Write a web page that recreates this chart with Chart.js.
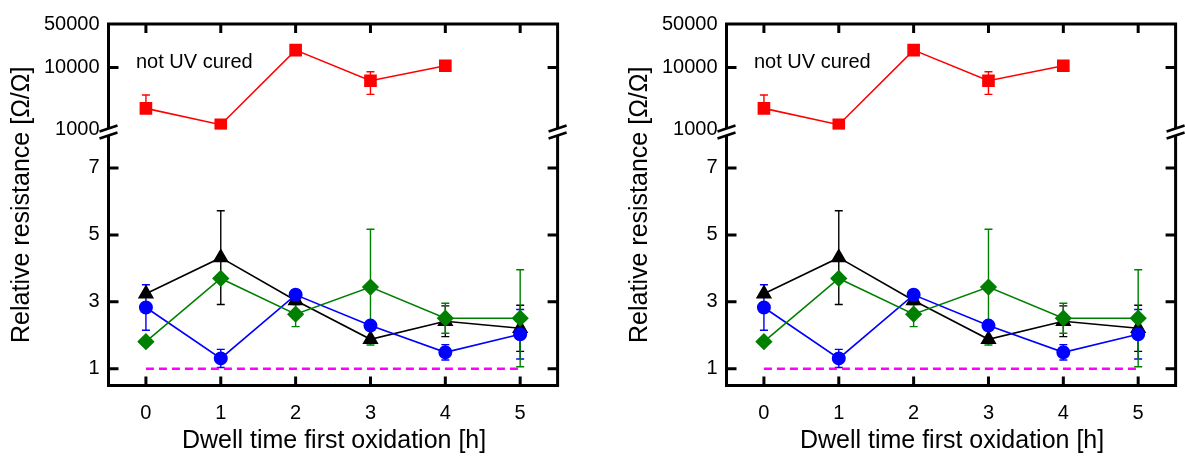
<!DOCTYPE html>
<html>
<head>
<meta charset="utf-8">
<script src="https://cdn.jsdelivr.net/npm/chart.js@4.4.1/dist/chart.umd.min.js"></script>
<style>
    html, body { margin: 0; padding: 0; background: #fff; }
    .panel { position: absolute; top: 0; width: 567px; height: 456px; }
    #panelA { left: 0; }
    #panelB { left: 618px; }
</style>
</head>
<body>
<div class="panel" id="panelA"><canvas id="chartA"></canvas></div>
<div class="panel" id="panelB"><canvas id="chartB"></canvas></div>
<script>
// dwell time of the first oxidation step [h]
const hours = [0, 1, 2, 3, 4, 5];

// tick values for the broken y axis
const logTicks = [1000, 10000, 50000];
const linTicks = [1, 3, 5, 7];

// not UV cured samples (upper, logarithmic part)
const redValues = [2190, 1195, 19000, 6100, 10650];
const redErrPlus = [1400, 0, 0, 2420, 0];
const redErrMinus = [0, 0, 0, 2420, 0];

// UV cured samples (lower, linear part)
const blackValues = [3.24, 4.32, 3.04, 1.88, 2.42, 2.21];
const blackErr = [0, 1.4, 0.12, 0, 0.46, 0.69];

const blueValues = [2.83, 1.31, 3.21, 2.29, 1.49, 2.03];
const blueErr = [0.68, 0.27, 0.15, 0, 0.23, 0.74];

const greenValues = [1.81, 3.70, 2.63, 3.44, 2.51, 2.51];
const greenErr = [0, 0, 0.37, 1.73, 0.45, 1.45];

// reference level R/R0 = 1
const refX = [0, 5];
const refY = [1, 1];

const FONT = "'Liberation Sans', Arial, sans-serif";

function points(values) {
    return values.map((v, i) => ({ x: hours[i], y: v }));
}

// vertical error bars with caps, drawn below the markers
const errorBars = {
    id: 'errorBars',
    beforeDatasetsDraw(chart) {
        const ctx = chart.ctx;
        const xs = chart.scales.x;
        chart.data.datasets.forEach(ds => {
            if (!ds.errPlus) return;
            const ys = chart.scales[ds.yAxisID];
            ctx.save();
            ctx.strokeStyle = ds.borderColor;
            ctx.lineWidth = 1.4;
            ds.data.forEach((p, i) => {
                const up = ds.errPlus[i];
                const down = ds.errMinus[i];
                if (!up && !down) return;
                const px = xs.getPixelForValue(p.x);
                const top = ys.getPixelForValue(p.y + up);
                const bot = ys.getPixelForValue(p.y - down);
                ctx.beginPath();
                ctx.moveTo(px, top);
                ctx.lineTo(px, bot);
                if (up) { ctx.moveTo(px - 4, top); ctx.lineTo(px + 4, top); }
                if (down) { ctx.moveTo(px - 4, bot); ctx.lineTo(px + 4, bot); }
                ctx.stroke();
            });
            ctx.restore();
        });
    }
};

// box frame, inward ticks, axis break and the texts
const frame = {
    id: 'frame',
    afterDraw(chart) {
        const { ctx, chartArea: a, scales } = chart;
        const yBreak = scales.yLog.bottom;
        ctx.save();
        ctx.strokeStyle = '#000';
        ctx.lineWidth = 3;
        ctx.strokeRect(a.left, a.top, a.right - a.left, a.bottom - a.top);

        ctx.beginPath();
        hours.forEach(h => {
            const px = scales.x.getPixelForValue(h);
            ctx.moveTo(px, a.bottom);
            ctx.lineTo(px, a.bottom - 9);
            ctx.moveTo(px, a.top);
            ctx.lineTo(px, a.top + 9);
        });
        const yTicks = logTicks.map(v => scales.yLog.getPixelForValue(v))
            .concat(linTicks.map(v => scales.yLin.getPixelForValue(v)))
            .filter(py => py > a.top + 3 && Math.abs(py - yBreak) > 3);
        yTicks.forEach(py => {
            ctx.moveTo(a.left, py);
            ctx.lineTo(a.left + 10, py);
            ctx.moveTo(a.right, py);
            ctx.lineTo(a.right - 10, py);
        });
        ctx.stroke();

        // break marks on both side axes
        [a.left, a.right].forEach(ax => {
            ctx.fillStyle = '#fff';
            ctx.beginPath();
            ctx.moveTo(ax - 9, yBreak + 2);
            ctx.lineTo(ax + 9, yBreak - 4);
            ctx.lineTo(ax + 9, yBreak + 3);
            ctx.lineTo(ax - 9, yBreak + 9);
            ctx.closePath();
            ctx.fill();
            ctx.lineWidth = 2.5;
            ctx.beginPath();
            ctx.moveTo(ax - 9, yBreak + 2);
            ctx.lineTo(ax + 9, yBreak - 4);
            ctx.moveTo(ax - 9, yBreak + 9);
            ctx.lineTo(ax + 9, yBreak + 3);
            ctx.stroke();
        });

        ctx.fillStyle = '#000';
        ctx.font = '20px ' + FONT;
        ctx.textAlign = 'left';
        ctx.textBaseline = 'alphabetic';
        ctx.fillText('not UV cured', 136, 68);

        ctx.font = '25px ' + FONT;
        ctx.textAlign = 'center';
        ctx.textBaseline = 'middle';
        ctx.fillText('Dwell time first oxidation [h]', (a.left + a.right) / 2 + 1, 441);

        ctx.translate(22, (a.top + a.bottom) / 2);
        ctx.rotate(-Math.PI / 2);
        ctx.fillText('Relative resistance [\u03A9/\u03A9]', 0, 0);
        ctx.restore();
    }
};

function buildChart(canvasId) {
    const ctx = document.getElementById(canvasId);
    return new Chart(ctx, {
        type: 'line',
        data: {
            datasets: [
                {
                    label: 'reference',
                    data: refX.map((x, i) => ({ x: x, y: refY[i] })),
                    yAxisID: 'yLin',
                    borderColor: '#ff00ff',
                    borderWidth: 2.5,
                    borderDash: [8, 5],
                    pointRadius: 0,
                    order: 6
                },
                {
                    label: 'not UV cured',
                    data: points(redValues),
                    yAxisID: 'yLog',
                    borderColor: '#ff0000',
                    backgroundColor: '#ff0000',
                    borderWidth: 1.6,
                    pointStyle: 'rect',
                    pointRadius: 7.8,
                    errPlus: redErrPlus,
                    errMinus: redErrMinus,
                    order: 5
                },
                {
                    label: 'black',
                    data: points(blackValues),
                    yAxisID: 'yLin',
                    borderColor: '#000000',
                    backgroundColor: '#000000',
                    borderWidth: 1.6,
                    pointStyle: 'triangle',
                    pointRadius: 7.8,
                    errPlus: blackErr,
                    errMinus: blackErr,
                    order: 4
                },
                {
                    label: 'blue',
                    data: points(blueValues),
                    yAxisID: 'yLin',
                    borderColor: '#0000ff',
                    backgroundColor: '#0000ff',
                    borderWidth: 1.6,
                    pointStyle: 'circle',
                    pointRadius: 6.2,
                    errPlus: blueErr,
                    errMinus: blueErr,
                    order: 3
                },
                {
                    label: 'green',
                    data: points(greenValues),
                    yAxisID: 'yLin',
                    borderColor: '#008000',
                    backgroundColor: '#008000',
                    borderWidth: 1.6,
                    pointStyle: 'rectRot',
                    pointRadius: 7.5,
                    errPlus: greenErr,
                    errMinus: greenErr,
                    order: 2
                }
            ]
        },
        options: {
            responsive: true,
            maintainAspectRatio: false,
            animation: false,
            events: [],
            layout: { padding: { top: 24, right: 8.5, left: 0, bottom: 0 } },
            plugins: {
                legend: { display: false },
                tooltip: { enabled: false }
            },
            elements: {
                line: { tension: 0, fill: false },
                point: { borderWidth: 0 }
            },
            scales: {
                x: {
                    type: 'linear',
                    min: -0.5,
                    max: 5.5,
                    grid: { display: false, drawTicks: false },
                    border: { display: false },
                    afterBuildTicks: scale => { scale.ticks = hours.map(v => ({ value: v })); },
                    afterFit: scale => { scale.height = 70.5; },
                    ticks: {
                        color: '#000',
                        font: { family: FONT, size: 20 },
                        padding: 16,
                        maxRotation: 0,
                        autoSkip: false
                    }
                },
                // lower, linear part of the broken axis (listed first so it sits at the bottom)
                yLin: {
                    type: 'linear',
                    position: 'left',
                    stack: 'resistance',
                    stackWeight: 256,
                    min: 0.5,
                    max: 8.15,
                    grid: { display: false, drawTicks: false },
                    border: { display: false },
                    afterBuildTicks: scale => { scale.ticks = linTicks.map(v => ({ value: v })); },
                    afterFit: scale => { scale.width = 108.5; },
                    ticks: {
                        color: '#000',
                        font: { family: FONT, size: 20 },
                        padding: 9,
                        autoSkip: false
                    }
                },
                // upper, logarithmic part
                yLog: {
                    type: 'logarithmic',
                    position: 'left',
                    stack: 'resistance',
                    stackWeight: 105.5,
                    min: 1000,
                    max: 50000,
                    grid: { display: false, drawTicks: false },
                    border: { display: false },
                    afterBuildTicks: scale => { scale.ticks = logTicks.map(v => ({ value: v })); },
                    afterFit: scale => { scale.width = 108.5; },
                    ticks: {
                        color: '#000',
                        font: { family: FONT, size: 20 },
                        padding: 9,
                        autoSkip: false,
                        callback: v => String(v)
                    }
                }
            }
        },
        plugins: [errorBars, frame]
    });
}

document.addEventListener('DOMContentLoaded', () => {
    buildChart('chartA');
    buildChart('chartB');
});
</script>
</body>
</html>
